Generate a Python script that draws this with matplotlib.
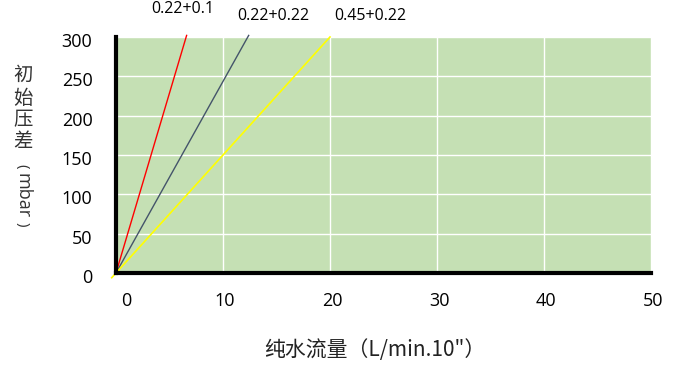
import matplotlib
matplotlib.use("Agg")
import matplotlib.pyplot as plt
import matplotlib.transforms as mtransforms

plt.rcParams['font.family'] = ['Open Sans', 'Noto Sans CJK SC', 'DejaVu Sans']

# data
series_names = ["0.22+0.1", "0.22+0.22", "0.45+0.22"]
red_x = [0, 6.6]
red_y = [0, 302]
blue_x = [0, 12.4]
blue_y = [0, 302]
yellow_x = [-0.4, 20]
yellow_y = [-6, 300]
xticks = [0, 10, 20, 30, 40, 50]
yticks = [0, 50, 100, 150, 200, 250, 300]
label_pos = [(6.2, 335.5), (14.7, 326.5), (23.8, 326.5)]

fig = plt.figure(figsize=(6.74, 3.69), dpi=100)
ax = fig.add_axes([0.1721, 0.2602, 0.7938, 0.6396])
ax.set_facecolor('#C5E0B4')
ax.set_xlim(0, 50)
ax.set_ylim(0, 300)
ax.set_xticks(xticks)
ax.set_yticks(yticks)
ax.grid(True, color='white', linewidth=1.0)
ax.set_axisbelow(True)
for s in ['top', 'right']:
    ax.spines[s].set_visible(False)
for s in ['left', 'bottom']:
    ax.spines[s].set_linewidth(3)
    ax.spines[s].set_color('black')
    ax.spines[s].set_zorder(5)
ax.tick_params(length=0, labelsize=13)
ax.tick_params(axis='y', pad=17)
ax.tick_params(axis='x', pad=14)

ax.plot(red_x, red_y, color='#FF0000', lw=1.0, clip_on=False, zorder=4)
ax.plot(blue_x, blue_y, color='#44546A', lw=1.0, clip_on=False, zorder=4)
ax.plot(yellow_x, yellow_y, color='#FFFF00', lw=1.2, clip_on=False, zorder=4)

for name, (lx, ly) in zip(series_names, label_pos):
    ax.text(lx, ly, name, fontsize=11.5, ha='center', va='center', clip_on=False)

fig.canvas.draw()
for lab in ax.get_yticklabels():
    lab.set_transform(lab.get_transform() + mtransforms.ScaledTranslation(0, -3/100, fig.dpi_scale_trans))
xl = ax.get_xticklabels()
xl[0].set_transform(xl[0].get_transform() + mtransforms.ScaledTranslation(10/100, 0, fig.dpi_scale_trans))
for lab in xl[1:]:
    lab.set_transform(lab.get_transform() + mtransforms.ScaledTranslation(2/100, 0, fig.dpi_scale_trans))

# y label: stacked characters
cjk = ['初', '始', '压', '差']
ys = [75, 98, 120, 142]
for ch, yy in zip(cjk, ys):
    fig.text(23/674, 1 - yy/369, ch, fontsize=14, ha='center', va='center',
             family=['Noto Sans CJK SC', 'DejaVu Sans'], color='#333333')
for part, yy, fs in [('(', 166, 11), ('mbar', 196, 13), (')', 224, 11)]:
    fig.text(22/674, 1 - yy/369, part, fontsize=fs, ha='center', va='center', rotation=-90,
             color='#333333')

fig.text(375/674, 1 - 350/369, '纯水流量（L/min.10"）', fontsize=15, ha='center', va='center',
         family=['Noto Sans CJK SC', 'DejaVu Sans'], color='#222222')

fig.savefig('out.png', dpi=100)
